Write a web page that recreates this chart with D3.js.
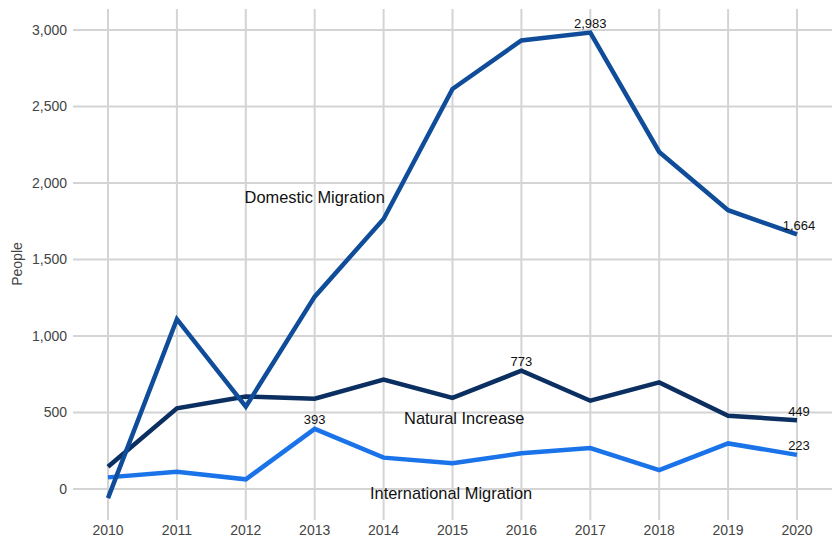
<!DOCTYPE html>
<html>
<head>
<meta charset="utf-8">
<script src="https://cdn.jsdelivr.net/npm/d3@7"></script>
<style>
  body { margin: 0; background: #fff; }
  svg { font-family: "Liberation Sans", Arial, sans-serif; }
  .grid line { stroke: #d4d4d4; stroke-width: 2px; }
  .tick-text { fill: #444; font-size: 14px; }
</style>
</head>
<body>
<script>
const years = [2010, 2011, 2012, 2013, 2014, 2015, 2016, 2017, 2018, 2019, 2020];
const domestic = [-60, 1110, 538, 1257, 1765, 2615, 2932, 2983, 2203, 1822, 1664];
const natural = [145, 527, 605, 590, 715, 595, 773, 577, 697, 479, 449];
const international = [76, 113, 63, 393, 205, 168, 233, 268, 124, 298, 223];
const yTicks = [0, 500, 1000, 1500, 2000, 2500, 3000];

const seriesNames = ["Domestic Migration", "Natural Increase", "International Migration"];
const seriesColors = ["#0f4c9a", "#0b2f60", "#1a73e8"];
// which points carry a value label, per series
const labelled = [[2017, 2020], [2016, 2020], [2013, 2020]];

const width = 833, height = 541;

const x = d3.scaleLinear().domain([2010, 2020]).range([108, 797]);
const y = d3.scaleLinear().domain([0, 3000]).range([489, 30]);

const svg = d3.select("body").append("svg")
    .attr("width", width)
    .attr("height", height);

// gridlines
const grid = svg.append("g").attr("class", "grid");
grid.selectAll(".hl").data(yTicks).enter().append("line")
    .attr("x1", 73).attr("x2", 832)
    .attr("y1", d => y(d)).attr("y2", d => y(d));
grid.selectAll(".vl").data(years).enter().append("line")
    .attr("x1", d => x(d)).attr("x2", d => x(d))
    .attr("y1", 9).attr("y2", 520);

// tick labels
svg.append("g").selectAll("text").data(yTicks).enter().append("text")
    .attr("class", "tick-text")
    .attr("x", 67).attr("y", d => y(d))
    .attr("dy", "0.35em")
    .style("text-anchor", "end")
    .text(d => d3.format(",")(d));

svg.append("g").selectAll("text").data(years).enter().append("text")
    .attr("class", "tick-text")
    .attr("x", d => x(d)).attr("y", 530)
    .attr("dy", "0.35em")
    .style("text-anchor", "middle")
    .text(d => d);

svg.append("text")
    .attr("class", "tick-text")
    .attr("transform", "translate(17, 264) rotate(-90)")
    .attr("dy", "0.35em")
    .style("text-anchor", "middle")
    .text("People");

const series = [domestic, natural, international].map((vals, i) => ({
    name: seriesNames[i],
    color: seriesColors[i],
    points: years.map((yr, j) => ({ year: yr, value: vals[j] }))
}));

const line = d3.line()
    .x(d => x(d.year))
    .y(d => y(d.value));

// draw international first, domestic on top of natural as in the picture
[2, 1, 0].forEach(i => {
    svg.append("path")
        .datum(series[i].points)
        .attr("fill", "none")
        .attr("stroke", series[i].color)
        .attr("stroke-width", 4.5)
        .attr("stroke-linejoin", "miter")
        .attr("d", line);
});

// series names
const nameLabels = [
    { text: seriesNames[0], year: 2013, value: 1910 },
    { text: seriesNames[1], year: 2015.17, value: 460 },
    { text: seriesNames[2], year: 2014.98, value: -30 }
];
svg.append("g").selectAll("text").data(nameLabels).enter().append("text")
    .attr("x", d => x(d.year)).attr("y", d => y(d.value))
    .attr("dy", "0.35em")
    .style("text-anchor", "middle")
    .style("font-size", "16.4px")
    .attr("fill", "#111")
    .text(d => d.text);

// value labels
const valueLabels = [];
series.forEach((s, i) => {
    s.points.forEach(p => {
        if (labelled[i].indexOf(p.year) >= 0) valueLabels.push(p);
    });
});
svg.append("g").selectAll("text").data(valueLabels).enter().append("text")
    .attr("x", d => x(d.year) + (d.year === 2020 ? 2 : 0))
    .attr("y", d => y(d.value) - 9)
    .attr("dy", "0.35em")
    .style("text-anchor", "middle")
    .style("font-size", "13px")
    .attr("fill", "#111")
    .text(d => d3.format(",")(d.value));
</script>
</body>
</html>
